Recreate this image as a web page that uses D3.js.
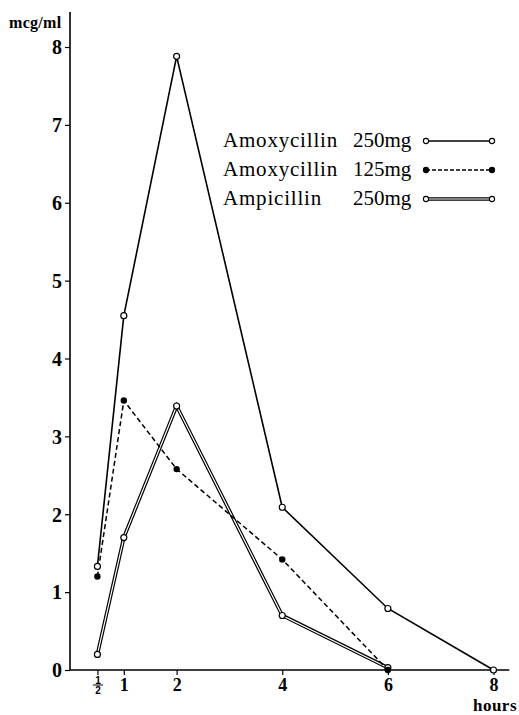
<!DOCTYPE html>
<html>
<head>
<meta charset="utf-8">
<script src="https://cdn.jsdelivr.net/npm/d3@7"></script>
<style>
  body { margin: 0; background: #fff; }
  svg { display: block; font-family: "Liberation Serif", "DejaVu Serif", serif; }
</style>
</head>
<body>
<figure id="chart" style="margin:0"></figure>
<script>
const hours = [0.5, 1, 2, 4, 6, 8];
const amox250 = [1.33, 4.55, 7.88, 2.09, 0.79, 0];
const amox125 = [1.2, 3.46, 2.58, 1.42, 0];
const ampi250 = [0.2, 1.7, 3.39, 0.7, 0.03];
const yTicks = [0, 1, 2, 3, 4, 5, 6, 7, 8];
const legendNames = ["Amoxycillin", "Amoxycillin", "Ampicillin"];
const legendDoses = ["250mg", "125mg", "250mg"];

const width = 519, height = 715;

const svg = d3.select("#chart")
  .append("svg")
  .attr("width", width)
  .attr("height", height);

const x = d3.scaleLinear().domain([0, 8]).range([71, 493.5]);
const y = d3.scaleLinear().domain([0, 8]).range([670, 47]);

// axes lines
svg.append("line")
  .attr("x1", 70).attr("x2", 70)
  .attr("y1", y(0)).attr("y2", y(8.45))
  .attr("stroke", "#000").attr("stroke-width", 1.6);
svg.append("line")
  .attr("x1", 70).attr("x2", x(8.3))
  .attr("y1", y(0)).attr("y2", y(0))
  .attr("stroke", "#000").attr("stroke-width", 1.6);

// Y axis ticks
const yAxis = svg.append("g")
  .attr("transform", "translate(70,0)")
  .call(d3.axisLeft(y).tickValues(yTicks).tickSize(5).tickPadding(3).tickFormat(d3.format("d")));
yAxis.select(".domain").remove();
yAxis.selectAll("line").attr("stroke-width", 1.2);
yAxis.selectAll("text")
  .attr("font-family", "Liberation Serif")
  .attr("font-size", 20)
  .attr("font-weight", "bold")
  .attr("dy", "0.34em");

// X axis ticks
const xAxis = svg.append("g")
  .attr("transform", "translate(0," + y(0) + ")")
  .call(d3.axisBottom(x).tickValues(hours).tickSize(5).tickPadding(3)
    .tickFormat(d => d === 0.5 ? "" : d));
xAxis.select(".domain").remove();
xAxis.selectAll("line").attr("stroke-width", 1.2);
xAxis.selectAll("text")
  .attr("font-family", "Liberation Serif")
  .attr("font-size", 18)
  .attr("font-weight", "bold")
  .attr("dy", "0.71em");

// fraction 1/2 label
const half = xAxis.selectAll(".tick").filter(d => d === 0.5);
half.append("text").attr("y", 14).attr("text-anchor", "middle")
  .attr("fill", "#000").attr("font-size", 10).attr("font-weight", "bold").text("1");
half.append("line").attr("x1", -5).attr("x2", 5).attr("y1", 15).attr("y2", 15)
  .attr("stroke", "#000").attr("stroke-width", 1);
half.append("text").attr("y", 24).attr("text-anchor", "middle")
  .attr("fill", "#000").attr("font-size", 10).attr("font-weight", "bold").text("2");

// axis titles
svg.append("text")
  .attr("x", 9).attr("y", 28)
  .attr("font-size", 16).attr("font-weight", "bold")
  .attr("letter-spacing", 0.3)
  .text("mcg/ml");
svg.append("text")
  .attr("x", 517).attr("y", 711)
  .attr("text-anchor", "end")
  .attr("font-size", 17).attr("font-weight", "bold")
  .attr("letter-spacing", 0.5)
  .text("hours");

const line = d3.line().x(d => x(d[0])).y(d => y(d[1]));

// Ampicillin 250mg: double line
const ampiPts = ampi250.map((v, i) => [hours[i], v]);
svg.append("path").datum(ampiPts).attr("d", line)
  .attr("fill", "none").attr("stroke", "#000").attr("stroke-width", 3.6);
svg.append("path").datum(ampiPts).attr("d", line)
  .attr("fill", "none").attr("stroke", "#fff").attr("stroke-width", 1.2);

// Amoxycillin 125mg: dashed
const a125Pts = amox125.map((v, i) => [hours[i], v]);
svg.append("path").datum(a125Pts).attr("d", line)
  .attr("fill", "none").attr("stroke", "#000").attr("stroke-width", 1.5)
  .attr("stroke-dasharray", "5,3");

// Amoxycillin 250mg: solid
const a250Pts = amox250.map((v, i) => [hours[i], v]);
svg.append("path").datum(a250Pts).attr("d", line)
  .attr("fill", "none").attr("stroke", "#000").attr("stroke-width", 1.6);

// markers
svg.selectAll(".m-ampi").data(ampiPts).enter().append("circle")
  .attr("cx", d => x(d[0])).attr("cy", d => y(d[1])).attr("r", 3)
  .attr("fill", "#fff").attr("stroke", "#000").attr("stroke-width", 1.2);
svg.selectAll(".m-a125").data(a125Pts).enter().append("circle")
  .attr("cx", d => x(d[0])).attr("cy", d => y(d[1])).attr("r", 3.2)
  .attr("fill", "#000");
svg.selectAll(".m-a250").data(a250Pts).enter().append("circle")
  .attr("cx", d => x(d[0])).attr("cy", d => y(d[1])).attr("r", 3)
  .attr("fill", "#fff").attr("stroke", "#000").attr("stroke-width", 1.2);

// legend
const legend = svg.append("g");
legendNames.forEach((name, i) => {
  const by = 147 + i * 29;
  legend.append("text").attr("x", 223).attr("y", by)
    .attr("font-size", 21).attr("letter-spacing", 0.8).text(name);
  legend.append("text").attr("x", 353).attr("y", by)
    .attr("font-size", 21).text(legendDoses[i]);
  const ly = by - 6;
  if (i === 0) {
    legend.append("line").attr("x1", 426).attr("x2", 492).attr("y1", ly).attr("y2", ly)
      .attr("stroke", "#000").attr("stroke-width", 1.3);
  } else if (i === 1) {
    legend.append("line").attr("x1", 426).attr("x2", 492).attr("y1", ly).attr("y2", ly)
      .attr("stroke", "#000").attr("stroke-width", 1.3).attr("stroke-dasharray", "4,2");
  } else {
    legend.append("line").attr("x1", 426).attr("x2", 492).attr("y1", ly).attr("y2", ly)
      .attr("stroke", "#000").attr("stroke-width", 3.4);
    legend.append("line").attr("x1", 426).attr("x2", 492).attr("y1", ly).attr("y2", ly)
      .attr("stroke", "#fff").attr("stroke-width", 1);
  }
  [426, 492].forEach(cx => {
    legend.append("circle").attr("cx", cx).attr("cy", ly).attr("r", 2.6)
      .attr("fill", i === 1 ? "#000" : "#fff")
      .attr("stroke", "#000").attr("stroke-width", 1.1);
  });
});
</script>
</body>
</html>
